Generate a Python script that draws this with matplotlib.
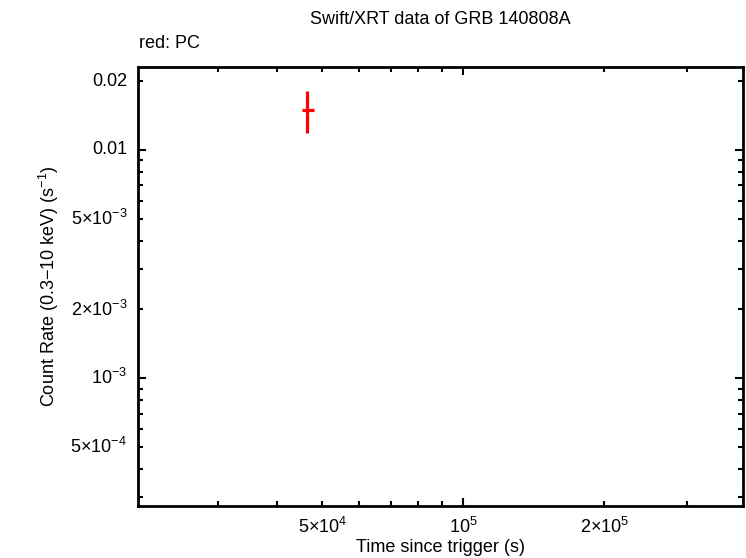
import matplotlib
matplotlib.use("Agg")
from matplotlib import pyplot as plt
from matplotlib.ticker import FixedLocator, NullFormatter
import numpy as np

plt.rcParams['font.family'] = ['Liberation Sans Narrow', 'Liberation Sans', 'DejaVu Sans']
plt.rcParams['mathtext.fontset'] = 'custom'
plt.rcParams['mathtext.rm'] = 'Liberation Sans'

# PC mode data (time in s, rate in counts/s)
t = [4.64e4]
t_lo = [4.53e4]
t_hi = [4.81e4]
rate = [0.0150]
rate_lo = [0.0119]
rate_hi = [0.0182]

x_ticks = [5e4, 1e5, 2e5]
x_labels = [r'5$\times$10$^{4}$', r'10$^{5}$', r'2$\times$10$^{5}$']
y_ticks = [0.02, 0.01, 5e-3, 2e-3, 1e-3, 5e-4]
y_labels = ['0.02', '0.01', r'5$\times$10$^{-3}$', r'2$\times$10$^{-3}$',
            r'10$^{-3}$', r'5$\times$10$^{-4}$']

fig = plt.figure(figsize=(7.46, 5.58), dpi=100)
ax = fig.add_axes([0.185, 0.093, 0.811, 0.787])

xerr = [np.array(t) - np.array(t_lo), np.array(t_hi) - np.array(t)]
yerr = [np.array(rate) - np.array(rate_lo), np.array(rate_hi) - np.array(rate)]
ax.errorbar(t, rate, xerr=xerr, yerr=yerr, fmt='none', ecolor='red',
            elinewidth=2.3, capsize=0)

ax.set_xscale('log')
ax.set_yscale('log')
ax.set_xlim(2.02e4, 3.96e5)
ax.set_ylim(2.75e-4, 0.0231)

ax.xaxis.set_major_locator(FixedLocator([1e5]))
ax.xaxis.set_minor_locator(FixedLocator([3e4, 4e4, 5e4, 6e4, 7e4, 8e4, 9e4, 2e5, 3e5]))
ax.yaxis.set_major_locator(FixedLocator([1e-3, 1e-2]))
ax.yaxis.set_minor_locator(FixedLocator([3e-4, 4e-4, 5e-4, 6e-4, 7e-4, 8e-4, 9e-4,
                                         2e-3, 3e-3, 4e-3, 5e-3, 6e-3, 7e-3, 8e-3, 9e-3, 2e-2]))
ax.xaxis.set_major_formatter(NullFormatter())
ax.xaxis.set_minor_formatter(NullFormatter())
ax.yaxis.set_major_formatter(NullFormatter())
ax.yaxis.set_minor_formatter(NullFormatter())

for v, s in zip(x_ticks, x_labels):
    ax.text(v, -0.025, s, transform=ax.get_xaxis_transform(), ha='center', va='top', fontsize=13)
for v, s in zip(y_ticks, y_labels):
    ax.text(-0.018, v, s, transform=ax.get_yaxis_transform(), ha='right', va='center', fontsize=13)

ax.tick_params(which='both', direction='in', top=True, right=True, width=1.5)
ax.tick_params(which='major', length=6)
ax.tick_params(which='minor', length=3.5)
for sp in ax.spines.values():
    sp.set_linewidth(2)

ax.set_xlabel('Time since trigger (s)', fontsize=13, labelpad=20)
ax.set_ylabel(r'Count Rate (0.3$-$10 keV) (s$^{-1}$)', fontsize=13, labelpad=52)

fig.text(0.59, 0.965, 'Swift/XRT data of GRB 140808A', ha='center', va='center', fontsize=13)
fig.text(0.186, 0.922, 'red: PC', ha='left', va='center', fontsize=13)

fig.savefig('out.png', dpi=100)
